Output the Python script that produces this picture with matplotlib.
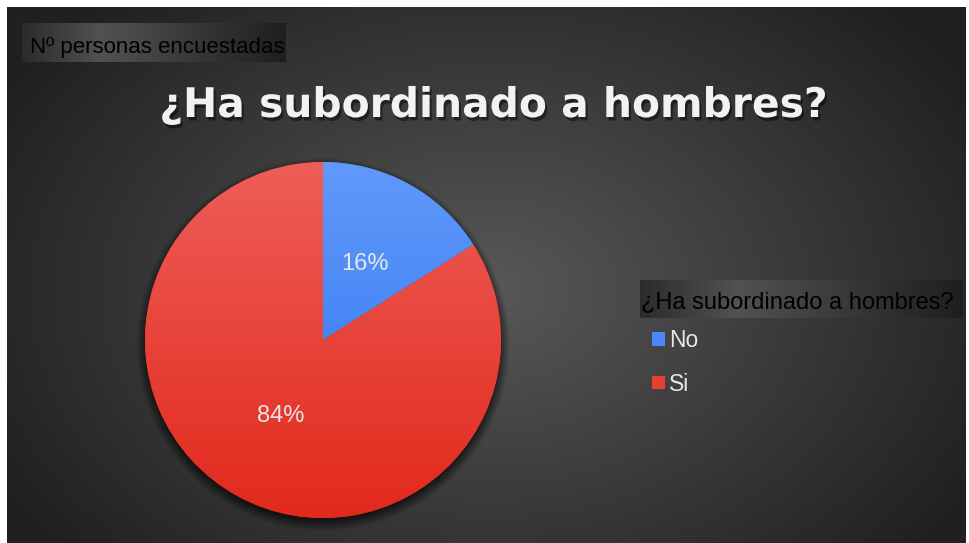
import numpy as np
import matplotlib
matplotlib.use('Agg')
import matplotlib.pyplot as plt
from matplotlib import patheffects
from matplotlib.patches import Patch

labels = ['No', 'Si']
values = [16, 84]
color_top = ['#6199fb', '#ee5e58']
color_bottom = ['#2a73ef', '#e2291c']
title = '¿Ha subordinado a hombres?'
caption = 'Nº personas encuestadas'
legend_title = '¿Ha subordinado a hombres?'

W, H = 969, 543
fig = plt.figure(figsize=(W / 100, H / 100), dpi=100, facecolor='white')

# background axes in pixel units (y down)
bg = fig.add_axes([0, 0, 1, 1])
bg.set_xlim(0, W)
bg.set_ylim(H, 0)
bg.axis('off')

# radial gradient panel
yy, xx = np.mgrid[7:H, 7:966]
r = np.sqrt(((xx - 490) / 560.0) ** 2 + ((yy - 290) / 400.0) ** 2)
r = np.clip(r, 0, 1)
lev = (0x58 * (1 - r) + 0x20 * r) / 255.0
bg.imshow(np.dstack([lev] * 3), extent=(7, 966, H, 7), aspect='auto',
          interpolation='bilinear', zorder=0)


def shade_box(x0, x1, y0, y1):
    t = np.linspace(0, 1, 300)
    lev = np.interp(t, [0, 0.3, 1], [0.17, 0.32, 0.12])
    strip = np.dstack([np.tile(lev, (2, 1))] * 3)
    bg.imshow(strip, extent=(x0, x1, y1, y0), aspect='auto',
              interpolation='bilinear', zorder=1)


shade_box(22, 286, 23, 62)
shade_box(640, 963, 280, 318)

bg.text(30, 47, caption, fontsize=16, color='black', family='Liberation Sans',
        ha='left', va='center', zorder=2)
bg.text(641, 302, legend_title, fontsize=17, color='black', family='Liberation Sans',
        ha='left', va='center', zorder=2)

bg.text(494, 106, title, fontsize=29.4, fontweight='bold', color='#f2f2f2',
        family='DejaVu Sans', ha='center', va='center', zorder=2,
        path_effects=[patheffects.SimplePatchShadow(offset=(1.5, -2.5), shadow_rgbFace='black', alpha=0.45),
                      patheffects.Normal()])

# pie
cx, cy, R, m = 323, 340, 178, 1.15
ax = fig.add_axes([(cx - R * m) / W, (H - cy - R * m) / H, 2 * R * m / W, 2 * R * m / H])
ax.patch.set_alpha(0)
wedges, _, autotexts = ax.pie(values, colors=color_bottom, startangle=90, counterclock=False,
                              autopct='%.0f%%', pctdistance=0.49,
                              wedgeprops=dict(linewidth=0))
ax.set_xlim(-m, m)
ax.set_ylim(-m, m)
ax.set_aspect('auto')

# soft shadow under the pie
sy, sx = np.mgrid[-m:m:400j, -m:m:400j]
d = np.sqrt(sx ** 2 + (sy + 0.025) ** 2)
alpha = np.clip((1.05 - d) / 0.06, 0, 1) * 0.6
shadow = np.zeros((400, 400, 4))
shadow[..., 3] = alpha
ax.imshow(shadow, extent=(-m, m, -m, m), origin='lower', zorder=0.5, interpolation='bilinear')

# vertical gradient fill for each wedge
for w, ct, cb in zip(wedges, color_top, color_bottom):
    t = np.linspace(0, 1, 256).reshape(-1, 1)
    c0 = np.array(matplotlib.colors.to_rgb(ct))
    c1 = np.array(matplotlib.colors.to_rgb(cb))
    grad = (c0 * (1 - t[..., None]) + c1 * t[..., None])
    im = ax.imshow(grad, extent=(-1, 1, -1, 1), aspect='auto', zorder=1.5)
    im.set_clip_path(w)

for t in autotexts:
    t.set_color('#e6e6e6')
    t.set_fontsize(17)
    t.set_family('Liberation Sans')
    t.set_zorder(3)

handles = [Patch(facecolor=c, edgecolor='none') for c in ['#4a88f8', '#e8402f']]
fig.legend(handles, labels, loc='upper left', bbox_to_anchor=(652 / W, 1 - 329 / H),
           frameon=False, borderpad=0, borderaxespad=0,
           prop=dict(family='Liberation Sans', size=16.5), labelcolor='#e6e6e6',
           handlelength=0.55, handleheight=0.55, handletextpad=0.2, labelspacing=0.9)

fig.savefig('out.png', dpi=100, facecolor='white')
